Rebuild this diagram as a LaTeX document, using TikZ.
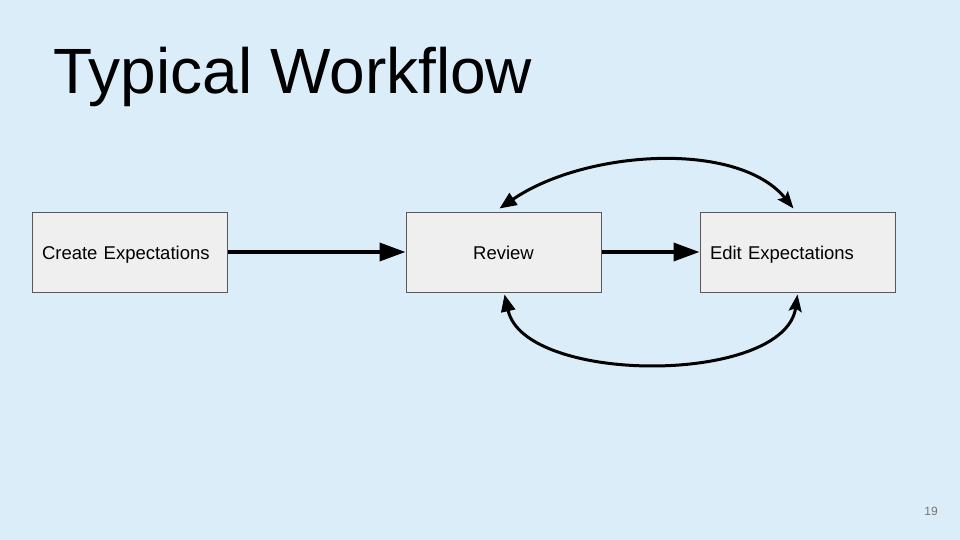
\documentclass[tikz,border=0pt]{standalone}
\usepackage{fontspec}
\setmainfont{Liberation Sans}
\usetikzlibrary{arrows.meta}
\definecolor{bgblue}{RGB}{219,237,249}
\definecolor{boxfill}{RGB}{239,239,239}
\definecolor{boxline}{RGB}{89,89,89}
\definecolor{pagegray}{RGB}{117,117,117}
\tikzset{
  stepbox/.style={draw=boxline, line width=1pt, fill=boxfill, minimum width=195pt, minimum height=80pt,
    inner xsep=10pt, inner ysep=0pt, text width=175pt, text height=14pt, text depth=0pt,
    font=\fontsize{18.5pt}{22pt}\selectfont},
  flowarrow/.style={line width=3.6pt, -{Triangle[length=26pt,width=18pt]}},
  looparrow/.style={line width=3pt, {Triangle[length=17pt,width=14pt]}-{Stealth[length=17pt,width=13pt,inset=3pt]}},
}
\begin{document}
\begin{tikzpicture}[x=1pt,y=-1pt]
\useasboundingbox (0,0) rectangle (960,540);
\fill[bgblue] (0,0) rectangle (960,540);
\node[anchor=base west, inner sep=0pt, font=\fontsize{64pt}{70pt}\selectfont] (title) at (53,94) {Typical Workflow};
\node[stepbox, align=left] (create) at (129.5,252) {Create Expectations};
\node[stepbox, align=center] (review) at (503.5,252) {Review};
\node[stepbox, align=left] (edit) at (797.5,252) {Edit Expectations};
\node[anchor=base, inner sep=0pt, text=pagegray, font=\fontsize{12pt}{14pt}\selectfont] (page) at (931,515) {19};
\draw[flowarrow] (create.east) -- (review.west);
\draw[flowarrow] (review.east) -- (edit.west);
\coordinate (rtop) at ([xshift=-4pt]review.north);
\coordinate (etop) at ([xshift=-4pt]edit.north);
\coordinate (rbot) at ([xshift=1pt]review.south);
\coordinate (ebot) at (edit.south);
\draw[looparrow] ([yshift=3pt]rtop) .. controls (585,150) and (738,140) .. ([yshift=3pt]etop);
\draw[looparrow] ([yshift=-2pt]rbot) .. controls (525,385) and (785,385) .. ([yshift=-2pt]ebot);
\end{tikzpicture}
\end{document}
